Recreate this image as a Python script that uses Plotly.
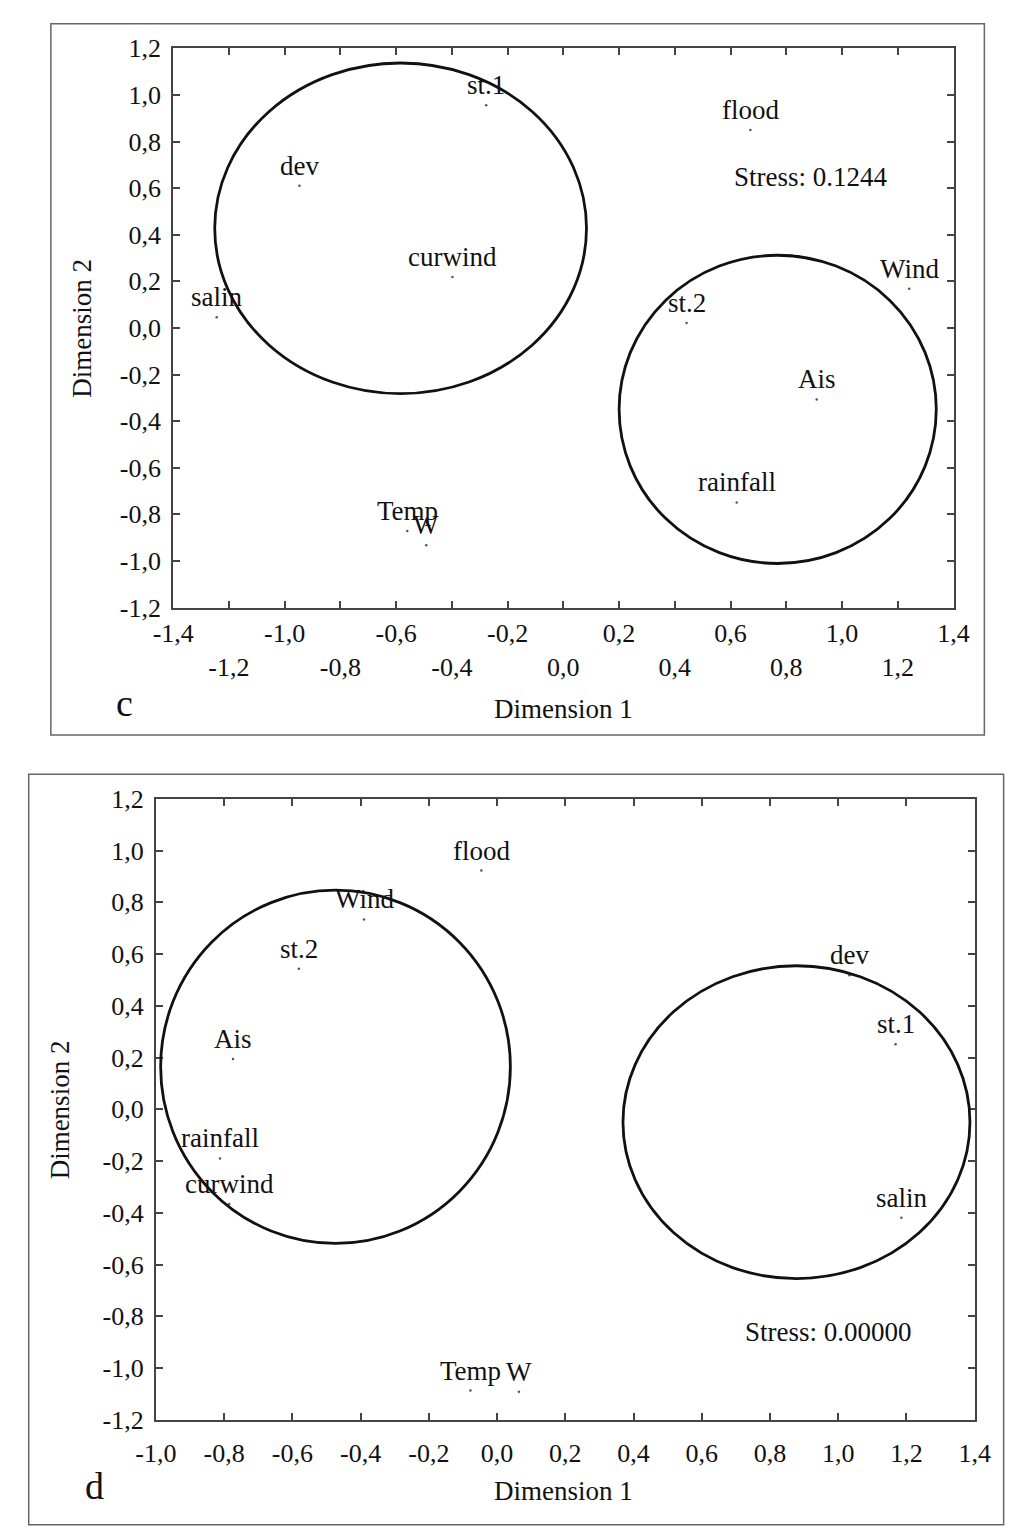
import plotly.graph_objects as go

# ---------------- data ----------------
# Panel c
labels_c = ["st.1", "flood", "dev", "curwind", "Wind", "salin", "st.2", "Ais", "rainfall", "Temp", "W"]
dim1_c = [-0.277, 0.671, -0.947, -0.398, 1.241, -1.244, 0.442, 0.909, 0.622, -0.560, -0.492]
dim2_c = [0.956, 0.850, 0.610, 0.219, 0.168, 0.046, 0.021, -0.307, -0.749, -0.871, -0.933]
stress_c = "Stress: 0.1244"
stress_pos_c = [0.888, 0.648]
# circles: [x0, y0, x1, y1]
circles_c = [[-1.251, -0.282, 0.083, 1.137], [0.200, -1.011, 1.338, 0.312]]

# Panel d
labels_d = ["flood", "Wind", "st.2", "Ais", "rainfall", "curwind", "dev", "st.1", "salin", "Temp", "W"]
dim1_d = [-0.046, -0.390, -0.581, -0.774, -0.812, -0.785, 1.033, 1.168, 1.185, -0.078, 0.064]
dim2_d = [0.923, 0.734, 0.543, 0.195, -0.190, -0.366, 0.518, 0.252, -0.419, -1.087, -1.091]
stress_d = "Stress: 0.00000"
stress_pos_d = [0.971, -0.859]
circles_d = [[-0.986, -0.518, 0.039, 0.847], [0.369, -0.654, 1.386, 0.555]]

# ticks
xticks_c = [-1.4, -1.2, -1.0, -0.8, -0.6, -0.4, -0.2, 0.0, 0.2, 0.4, 0.6, 0.8, 1.0, 1.2, 1.4]
xticktext_c = ["-1,4", "<br>-1,2", "-1,0", "<br>-0,8", "-0,6", "<br>-0,4", "-0,2", "<br>0,0",
               "0,2", "<br>0,4", "0,6", "<br>0,8", "1,0", "<br>1,2", "1,4"]
xticks_d = [-1.0, -0.8, -0.6, -0.4, -0.2, 0.0, 0.2, 0.4, 0.6, 0.8, 1.0, 1.2, 1.4]
xticktext_d = ["-1,0", "-0,8", "-0,6", "-0,4", "-0,2", "0,0", "0,2", "0,4", "0,6", "0,8", "1,0", "1,2", "1,4"]
yticks = [-1.2, -1.0, -0.8, -0.6, -0.4, -0.2, 0.0, 0.2, 0.4, 0.6, 0.8, 1.0, 1.2]
yticktext = ["-1,2", "-1,0", "-0,8", "-0,6", "-0,4", "-0,2", "0,0", "0,2", "0,4", "0,6", "0,8", "1,0", "1,2"]

# ---------------- figure ----------------
W, H = 1010, 1530
FONT = "Liberation Serif, Times New Roman, serif"
TXT = "#111111"
AX = "#444444"

def px(xp):
    return xp / W

def py(yp):
    return 1 - yp / H

fig = go.Figure()

fig.add_trace(go.Scatter(
    x=dim1_c, y=dim2_c, mode="markers", text=labels_c,
    marker=dict(size=2.5, color="#555555"), xaxis="x", yaxis="y", showlegend=False))
fig.add_trace(go.Scatter(
    x=dim1_d, y=dim2_d, mode="markers", text=labels_d,
    marker=dict(size=2.5, color="#555555"), xaxis="x2", yaxis="y2", showlegend=False))

axis_common = dict(showgrid=False, zeroline=False, showline=True, linecolor=AX, linewidth=2,
                   mirror="ticks", ticks="inside", ticklen=7, tickwidth=1.5, tickcolor=AX,
                   tickfont=dict(family=FONT, size=26, color=TXT), fixedrange=True)

fig.update_layout(
    width=W, height=H, margin=dict(l=0, r=0, t=0, b=0),
    paper_bgcolor="white", plot_bgcolor="white",
    xaxis=dict(domain=[px(158), px(968)], range=[-1.4, 1.4], anchor="y",
               tickmode="array", tickvals=xticks_c, ticktext=xticktext_c,
               ticklabelstandoff=1, **axis_common),
    yaxis=dict(domain=[py(605), py(35)], range=[-1.2, 1.2], anchor="x",
               tickmode="array", tickvals=yticks, ticktext=yticktext,
               ticklabelstandoff=5, **axis_common),
    xaxis2=dict(domain=[px(140), px(990)], range=[-1.0, 1.4], anchor="y2",
                tickmode="array", tickvals=xticks_d, ticktext=xticktext_d,
                ticklabelstandoff=9, **axis_common),
    yaxis2=dict(domain=[py(1433), py(800)], range=[-1.2, 1.2], anchor="x2",
                tickmode="array", tickvals=yticks, ticktext=yticktext,
                ticklabelstandoff=5, **axis_common),
)

shapes = []
for c in circles_c:
    shapes.append(dict(type="circle", xref="x", yref="y", x0=c[0], y0=c[1], x1=c[2], y1=c[3],
                       line=dict(color="#111111", width=2.8)))
for c in circles_d:
    shapes.append(dict(type="circle", xref="x2", yref="y2", x0=c[0], y0=c[1], x1=c[2], y1=c[3],
                       line=dict(color="#111111", width=2.8)))
# outer panel frames
shapes.append(dict(type="rect", xref="paper", yref="paper", x0=px(31), x1=px(1000), y0=py(735), y1=py(10),
                   line=dict(color="#666666", width=1.5)))
shapes.append(dict(type="rect", xref="paper", yref="paper", x0=px(8), x1=px(1020), y0=py(1540), y1=py(775),
                   line=dict(color="#666666", width=1.5)))
fig.update_layout(shapes=shapes)

def note(x, y, text, xref="paper", yref="paper", size=27, **kw):
    d = dict(x=x, y=y, xref=xref, yref=yref, text=text, showarrow=False,
             xanchor="center", yanchor="middle",
             font=dict(family=FONT, size=size, color=TXT))
    d.update(kw)
    return d

ann = []
# point labels, placed above each point
for lx, ly, lt in zip(dim1_c, dim2_c, labels_c):
    ann.append(note(lx, ly, lt, xref="x", yref="y", yshift=20))
for lx, ly, lt in zip(dim1_d, dim2_d, labels_d):
    ann.append(note(lx, ly, lt, xref="x2", yref="y2", yshift=20))
ann.append(note(stress_pos_c[0], stress_pos_c[1], stress_c, xref="x", yref="y"))
ann.append(note(stress_pos_d[0], stress_pos_d[1], stress_d, xref="x2", yref="y2"))
# axis titles
ann.append(note(px(563), py(708), "Dimension 1"))
ann.append(note(px(63), py(320), "Dimension 2", textangle=-90))
ann.append(note(px(563), py(1506), "Dimension 1"))
ann.append(note(px(40), py(1117), "Dimension 2", textangle=-90))
# panel letters
ann.append(note(px(107), py(702), "c", size=38))
ann.append(note(px(76), py(1500), "d", size=38))
fig.update_layout(annotations=ann)

fig.write_html("out.html")
